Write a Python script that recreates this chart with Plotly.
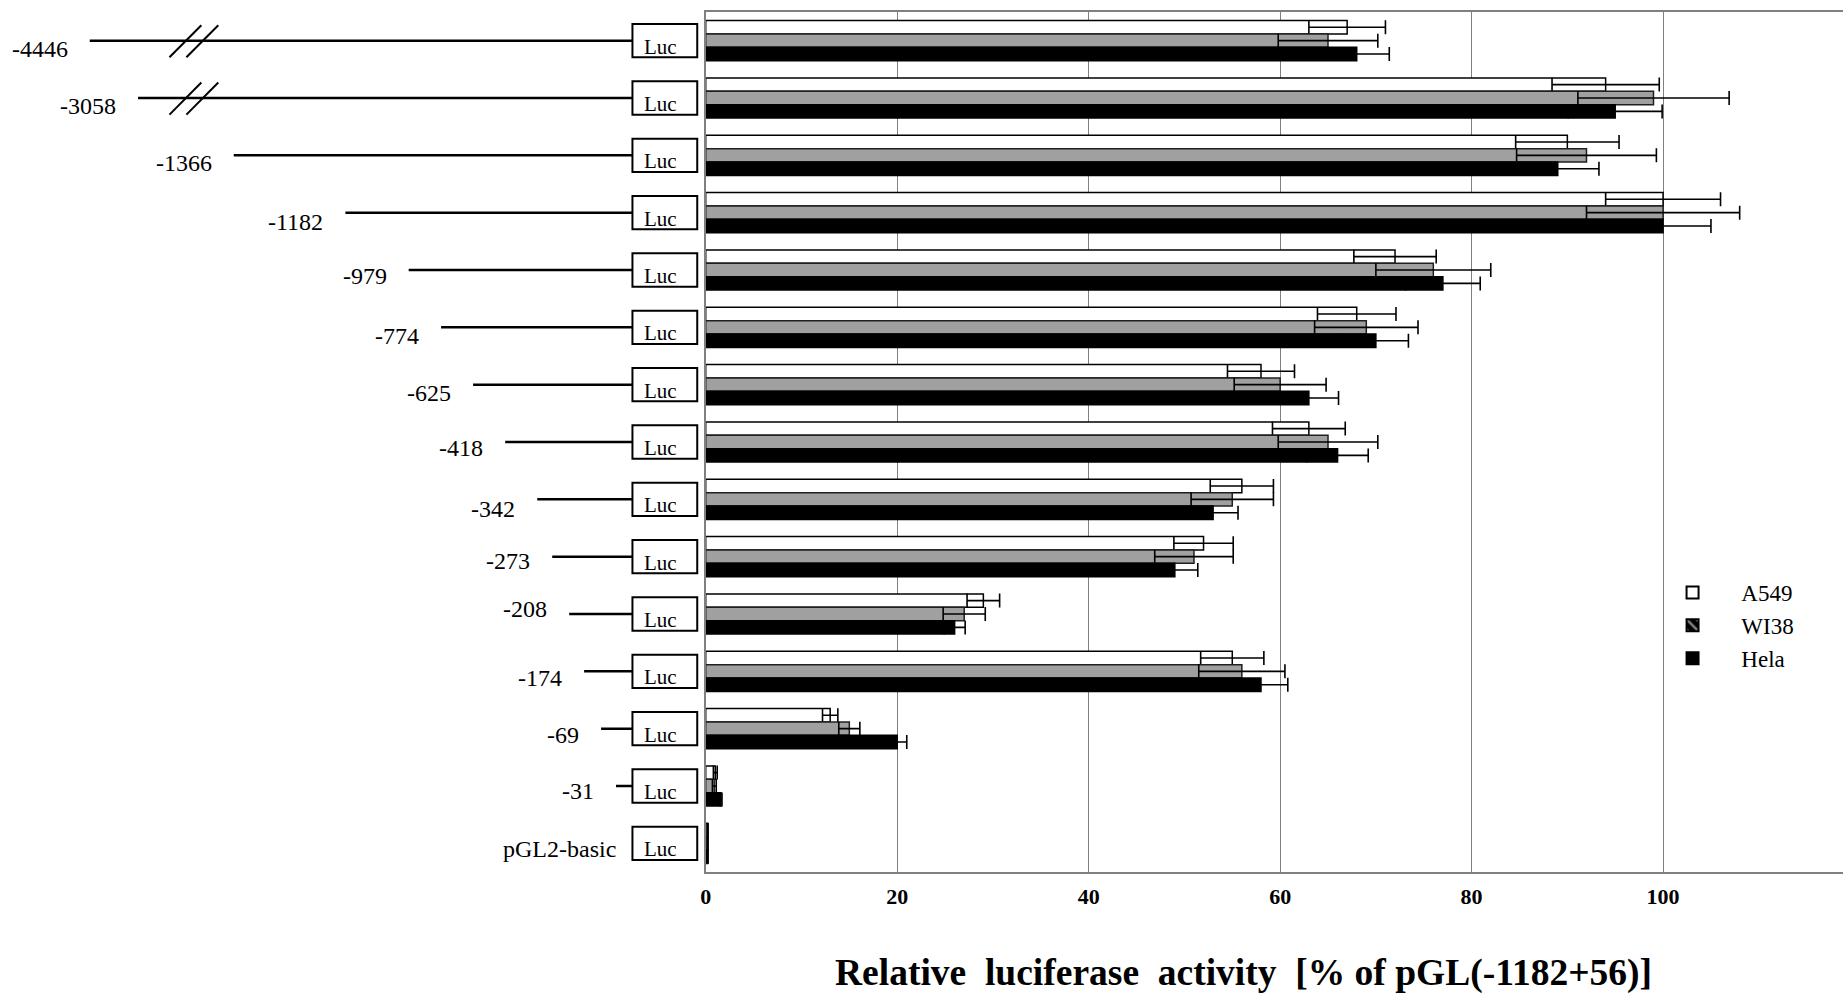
import plotly.graph_objects as go

# ---------------- data ----------------
constructs = ["-4446", "-3058", "-1366", "-1182", "-979", "-774", "-625", "-418",
              "-342", "-273", "-208", "-174", "-69", "-31", "pGL2-basic"]
a549 = [67, 94, 90, 100, 72, 68, 58, 63, 56, 52, 29, 55, 13, 1.0, 0.2]
a549_err = [4.0, 5.6, 5.4, 6.0, 4.3, 4.1, 3.5, 3.8, 3.3, 3.1, 1.7, 3.3, 0.8, 0.2, 0.05]
wi38 = [65, 99, 92, 100, 76, 69, 60, 65, 55, 51, 27, 56, 15, 0.9, 0.2]
wi38_err = [5.2, 7.9, 7.3, 8.0, 6.0, 5.4, 4.8, 5.2, 4.3, 4.1, 2.2, 4.5, 1.1, 0.2, 0.05]
hela = [68, 95, 89, 100, 77, 70, 63, 66, 53, 49, 26, 58, 20, 1.6, 0.2]
hela_err = [3.4, 4.9, 4.3, 5.0, 3.9, 3.4, 3.1, 3.2, 2.6, 2.4, 1.1, 2.8, 1.0, 0.1, 0.05]
series_names = ["A549", "WI38", "Hela"]
x_ticks = [0, 20, 40, 60, 80, 100]
x_title = "Relative\u00a0 luciferase\u00a0 activity\u00a0 [% of pGL(-1182+56)]"

# ---------------- layout geometry (page pixels) ----------------
W, H = 1843, 994
PLOT_LEFT = 702                    # page x of value 0
PLOT_TOP, PLOT_BOTTOM = 12, 872    # page y of plot area
PX_PER_UNIT = 9.605
SCHEM_SHIFT = 2                    # small horizontal correction of the schematic

schem_line_start = [86, 134.5, 230.5, 342.5, 406, 438.5, 470.6, 502.8, 535, 550,
                    567, 582, 599, 614, None]
label_dy = [10, 10, 10, 11, 8, 11, 10, 8, 12, 6, -3, 9, 8, 7, 8]
broken = [True, True] + [False] * 13
BOX_X0, BOX_X1 = 630.5, 695.5

SERIF = "Liberation Serif, Times New Roman, serif"
GRID = "#808080"

fig = go.Figure()

bar_styles = [
    dict(color="white", line=dict(color="black", width=1.5)),
    dict(color="#a0a0a0", line=dict(color="#202020", width=1.5)),
    dict(color="black", line=dict(color="black", width=1.5)),
]
vals = [a549, wi38, hela]
errs = [a549_err, wi38_err, hela_err]
legend_pad = "\u00a0" * 5
for k in range(3):
    fig.add_trace(go.Bar(
        y=constructs, x=vals[k], orientation="h", name=legend_pad + series_names[k],
        marker=bar_styles[k],
        error_x=dict(type="data", array=errs[k], color="black", thickness=1.6, width=7),
        showlegend=(k != 1), legendrank=k + 1,
        xaxis="x", yaxis="y",
    ))

# legend-only entry for WI38 with its hatched key
fig.add_trace(go.Bar(
    y=[None], x=[None], orientation="h", name=legend_pad + series_names[1],
    marker=dict(color="black", line=dict(color="black", width=1.5),
                pattern=dict(shape="\\", fgcolor="white", size=9, solidity=0.35)),
    legendrank=2, xaxis="x2", yaxis="y", hoverinfo="skip",
))

# schematic promoter lines
lx, ly = [], []
for i, s in enumerate(schem_line_start):
    if s is None:
        continue
    lx += [s, BOX_X0, None]
    ly += [constructs[i], constructs[i], None]
fig.add_trace(go.Scatter(x=lx, y=ly, mode="lines", xaxis="x2", yaxis="y",
                         line=dict(color="black", width=2.5),
                         showlegend=False, hoverinfo="skip"))

shapes = []
annotations = []
for i, name in enumerate(constructs):
    shapes.append(dict(type="rect", xref="x2", yref="y",
                       x0=BOX_X0, x1=BOX_X1, y0=i - 0.29, y1=i + 0.29,
                       line=dict(color="black", width=2), fillcolor="white", layer="above"))
    annotations.append(dict(text="Luc", xref="x2", yref="y", x=659, y=i, yshift=-6,
                            showarrow=False, font=dict(family=SERIF, size=21, color="black")))
    s = schem_line_start[i]
    lab_x = (s - 20) if s is not None else 616
    annotations.append(dict(text=name, xref="x2", yref="y", x=lab_x, y=i,
                            xanchor="right", yshift=-label_dy[i] + 2, showarrow=False,
                            font=dict(family=SERIF, size=24, color="black")))
    if broken[i]:
        for off in (0, 17):
            shapes.append(dict(type="line", xref="x2", yref="y",
                               x0=166 + off, x1=198 + off, y0=i + 0.29, y1=i - 0.27,
                               line=dict(color="black", width=2)))

plot_h = PLOT_BOTTOM - PLOT_TOP
annotations.append(dict(text=x_title, xref="paper", yref="paper",
                        x=1242 / W, y=(PLOT_BOTTOM - 973) / plot_h,
                        xanchor="center", yanchor="middle", showarrow=False,
                        font=dict(family=SERIF, size=37.5, color="black", weight="bold")))

fig.update_layout(
    width=W, height=H,
    margin=dict(l=0, r=0, t=PLOT_TOP, b=H - PLOT_BOTTOM),
    paper_bgcolor="white", plot_bgcolor="white",
    barmode="group", bargap=0.30, bargroupgap=0,
    font=dict(family=SERIF, color="black"),
    xaxis=dict(domain=[PLOT_LEFT / W, 1], range=[0, (W - PLOT_LEFT) / PX_PER_UNIT],
               tickvals=x_ticks,
               showgrid=True, gridcolor=GRID, gridwidth=1.3,
               showline=True, linecolor=GRID, linewidth=1.5, mirror=True,
               zeroline=False, ticks="", ticklabelstandoff=4,
               tickfont=dict(family=SERIF, size=22, color="black", weight="bold"),
               anchor="y"),
    xaxis2=dict(domain=[0, PLOT_LEFT / W],
                range=[SCHEM_SHIFT, PLOT_LEFT + SCHEM_SHIFT], visible=False,
                anchor="y", fixedrange=True),
    yaxis=dict(type="category", categoryorder="array", categoryarray=constructs,
               range=[14.5, -0.5], showticklabels=False, showgrid=False,
               showline=True, linecolor=GRID, linewidth=1.5, zeroline=False,
               ticks="", anchor="x"),
    legend=dict(x=1672 / W, y=(PLOT_BOTTOM - 571) / plot_h,
                xanchor="left", yanchor="top",
                font=dict(family=SERIF, size=23, color="black"),
                bgcolor="rgba(0,0,0,0)", tracegroupgap=0, itemsizing="constant"),
    shapes=shapes, annotations=annotations,
)

fig.write_html("out.html", config={"displayModeBar": False},
               post_script="document.body.style.margin='0px';document.body.style.overflow='hidden';")
